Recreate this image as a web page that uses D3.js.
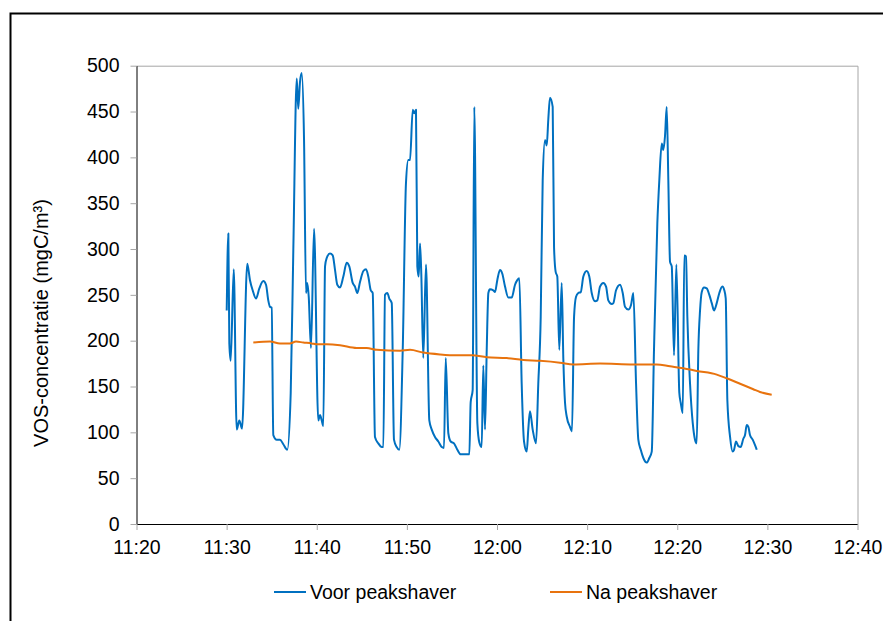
<!DOCTYPE html>
<html>
<head>
<meta charset="utf-8">
<script src="https://cdn.jsdelivr.net/npm/d3@7"></script>
<style>
body { margin: 0; background: #fff; }
svg { display: block; font-family: "Liberation Sans", Arial, sans-serif; }
</style>
</head>
<body>
<div id="chart"></div>
<script>
// time in minutes after 11:00, value in mgC/m3
var voorMin = [30.01,30.19,30.30,30.45,30.79,31.12,31.41,31.71,32.29,32.59,32.89,33.26,33.63,34.07,34.37,34.62,34.81,35.00,35.18,35.56,35.92,36.29,36.73,37.11,37.40,37.78,37.95,38.14,38.33,38.59,38.81,38.95,39.11,39.36,39.70,40.17,40.36,40.55,40.73,40.92,41.10,41.47,41.77,42.03,42.28,42.58,42.95,43.32,43.61,43.99,44.24,44.50,44.80,45.17,45.47,45.72,45.99,46.21,46.46,46.83,47.21,47.39,47.57,47.83,48.05,48.32,48.57,48.87,49.16,49.54,49.90,50.16,50.35,50.65,50.82,51.01,51.16,51.31,51.46,51.60,51.82,52.12,52.49,52.76,53.12,53.49,53.87,54.12,54.31,54.60,54.86,55.23,55.60,55.97,56.45,56.93,57.08,57.30,57.48,57.82,58.04,58.30,58.48,58.67,58.86,59.04,59.22,59.59,59.78,60.03,60.33,60.59,60.89,61.26,61.63,62.00,62.25,62.48,62.74,63.00,63.30,63.47,63.66,63.96,64.33,64.58,64.85,65.07,65.33,65.52,65.69,65.88,66.18,66.33,66.51,66.69,66.91,67.18,67.36,67.55,67.74,68.10,68.32,68.55,68.77,69.02,69.29,69.58,69.95,70.24,70.51,70.88,71.13,71.43,71.80,72.10,72.35,72.73,72.91,73.21,73.65,73.95,74.20,74.57,74.87,75.13,75.43,75.68,75.95,76.24,76.61,76.90,77.17,77.42,77.79,78.01,78.28,78.45,78.64,78.83,79.01,79.20,79.39,79.64,79.90,80.23,80.39,80.61,80.78,80.97,81.12,81.42,81.72,81.97,82.16,82.34,82.53,82.72,82.97,83.27,83.56,83.83,84.08,84.38,84.67,85.00,85.22,85.38,85.56,85.86,86.15,86.30,86.52,86.78,87.04,87.33,87.52,87.71,87.89,88.07,88.37,88.63,88.82]
var voorVal = [233,317,197,178,278,103,113,104,284,266,255,246,257,265,261,244,237,236,97,92,92,87,81,143,299,486,453,482,492,419,252,263,248,192,322,113,119,113,107,281,290,295,293,277,261,258,270,285,281,263,259,252,264,276,278,270,255,252,95,88,84,84,250,252,246,241,92,84,81,190,372,397,397,452,448,452,281,270,306,273,181,283,113,103,95,90,84,83,181,99,90,88,81,76,76,76,133,146,455,110,89,84,173,103,190,252,256,255,253,266,277,273,259,247,247,261,266,268,153,90,79,103,123,103,88,153,226,375,419,413,441,465,455,302,275,270,190,263,180,132,117,106,101,226,248,252,253,270,276,270,252,243,244,259,263,259,244,240,241,255,261,252,237,234,239,252,153,92,81,72,67,72,79,190,328,375,415,408,423,455,375,286,281,184,283,143,132,121,293,292,226,153,110,92,88,190,233,253,258,257,250,241,233,241,252,259,255,246,135,95,79,81,90,85,84,93,97,108,106,97,92,86,81]

var naMin = [32.96,34.81,35.92,37.03,37.70,38.51,39.44,40.00,41.10,42.58,44.43,45.54,46.65,49.24,50.35,51.82,53.68,55.53,57.19,58.86,61.08,62.92,64.77,66.99,68.47,71.43,75.13,77.72,79.20,80.67,82.16,84.38,85.49,86.97,88.44,89.18,90.48]
var naVal = [198,199,197,197,199,198,197,196,196,195,192,192,190,189,190,187,185,184,184,182,181,179,178,176,174,175,174,174,172,170,167,163,159,153,147,144,141]

var yTicks = [0,50,100,150,200,250,300,350,400,450,500]
var seriesNames = ["Voor peakshaver", "Na peakshaver"]
var seriesColors = ["#0070C0", "#E8730E"]
var yLabel = "VOS-concentratie (mgC/m³)"

drawChart()

function toDate(m){
    return new Date(2000,0,1,11,0,0,0).getTime() + m*60000
}

function drawChart(){
    var width = 883, height = 621
    var plotLeft = 136.5, plotRight = 857.5, plotTop = 65.7, plotBottom = 524
    var fontSize = "19.5px"

    var svg = d3.select("#chart").append("svg").attr("width",width).attr("height",height)

    // outer frame (cropped on right/bottom)
    svg.append("rect").attr("x",10.5).attr("y",13.5).attr("width",1000).attr("height",1000)
        .attr("fill","none").attr("stroke","#000").attr("stroke-width",2)

    var x = d3.scaleTime()
        .domain([new Date(2000,0,1,11,20), new Date(2000,0,1,12,40)])
        .range([plotLeft,plotRight])
    var y = d3.scaleLinear().domain([0,500]).range([plotBottom,plotTop])

    // plot area border (top/right grey)
    svg.append("path")
        .attr("d","M"+plotLeft+","+(plotTop+0.5)+"H"+(plotRight+0.5)+"V"+plotBottom)
        .attr("fill","none").attr("stroke","#a6a6a6").attr("stroke-width",1)

    var yAxis = svg.append("g").attr("transform","translate("+plotLeft+",0)")
        .call(d3.axisLeft(y).tickValues(yTicks).tickSize(6).tickSizeOuter(0).tickPadding(11))
    yAxis.select(".domain").attr("stroke","#000")
    yAxis.selectAll(".tick line").attr("stroke","#a6a6a6")
    yAxis.selectAll("text").attr("font-size",fontSize).attr("fill","#000")
        .attr("font-family","'Liberation Sans', Arial, sans-serif")

    var xAxis = svg.append("g").attr("transform","translate(0,"+plotBottom+")")
        .call(d3.axisBottom(x).ticks(d3.timeMinute.every(10)).tickFormat(d3.timeFormat("%H:%M"))
            .tickSize(6).tickSizeOuter(0).tickPadding(10))
    xAxis.select(".domain").attr("stroke","#000")
    xAxis.selectAll(".tick line").attr("stroke","#a6a6a6")
    xAxis.selectAll("text").attr("font-size",fontSize).attr("fill","#000")
        .attr("font-family","'Liberation Sans', Arial, sans-serif")

    svg.append("text")
        .attr("transform","translate(48,323) rotate(-90)")
        .attr("text-anchor","middle")
        .attr("font-size","20px")
        .text(yLabel)

    var line = d3.line()
        .x(function(d){return x(toDate(d[0]))})
        .y(function(d){return y(d[1])})
        .curve(d3.curveMonotoneX)

    var voor = voorMin.map(function(m,i){return [m,voorVal[i]]})
    var na = naMin.map(function(m,i){return [m,naVal[i]]})

    svg.append("path").datum(voor).attr("d",line)
        .attr("fill","none").attr("stroke",seriesColors[0]).attr("stroke-width",2)
        .attr("stroke-linejoin","round")
    svg.append("path").datum(na).attr("d",line)
        .attr("fill","none").attr("stroke",seriesColors[1]).attr("stroke-width",2)
        .attr("stroke-linejoin","round")

    // legend
    var legendX = [274, 550]
    var legend = svg.selectAll(".legend").data(seriesNames).enter().append("g")
        .attr("class","legend")
        .attr("transform",function(d,i){return "translate("+legendX[i]+",592)"})
    legend.append("line").attr("x1",0).attr("x2",32).attr("y1",0).attr("y2",0)
        .attr("stroke",function(d,i){return seriesColors[i]}).attr("stroke-width",2)
    legend.append("text").attr("x",36).attr("y",7).attr("font-size",fontSize)
        .text(function(d){return d})
}
</script>
</body>
</html>
